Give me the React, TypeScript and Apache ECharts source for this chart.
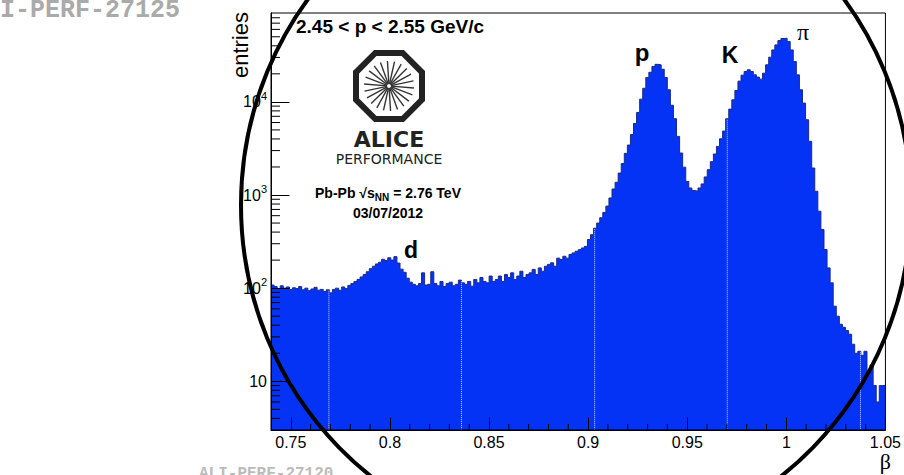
import React, { useEffect, useRef } from 'react';
import * as echarts from 'echarts';

// ---- data ----
const X_MIN = 0.74;
const X_MAX = 1.05;
const BIN_WIDTH = 0.00155;
const Y_MIN = 3;
const Y_MAX = 90000;

// bins 0..99 (beta 0.740 - 0.895): flat background + deuteron bump
const countsLowBeta = [
  108, 104, 98, 106, 100, 103, 97, 101, 99, 104, 96, 100, 94, 98, 102, 95, 97, 92, 96,
  89,
  97, 100, 95, 103, 99, 107,
  112, 118, 124, 132, 140, 150, 162, 172, 182,
  190, 204, 198, 212, 200, 218, 186,
  160, 148, 128, 116, 110,
  106, 112, 146, 108, 110, 150, 112, 106, 118, 104, 112, 116, 106, 110, 122,
  114, 110, 118, 105, 124, 114, 130, 118, 114, 135, 118,
  124, 135, 118, 140, 130, 146, 124, 135, 152, 130, 140,
  146, 159, 140, 165, 152, 172, 180,
  187, 172, 210, 203, 220,
  210, 230, 239, 249,
];
// bins 100..138: proton peak
const countsProton = [
  259, 270, 281, 333, 375, 440,
  500, 570, 650, 760, 930, 1160, 1370, 1720, 2180, 2800, 3440, 4460, 5870, 7700,
  10700, 14000, 18300, 20800, 24000, 25300, 25000, 22400, 18300, 13500, 9200, 6600,
  4260, 2825, 1990, 1400, 1190, 1115, 1100,
];
// bins 139..199: kaon + pion peaks and tail
const countsKaonPion = [
  1190, 1315, 1564, 1871, 2280, 2755, 3325, 4020, 4860, 6590, 8360, 10520, 13250,
  16700, 19360, 21200, 22100, 21200, 19500, 18450, 17550, 20330, 25000, 30200, 36100,
  40900, 45500, 47900, 48300, 44400, 36100, 27100, 19500, 13500, 9700, 6430, 3770,
  1950, 1097, 670, 426, 260, 165, 114, 64, 50, 41, 38, 35, 32, 25, 20, 21, 19, 21,
  12, 15, 9, 6, 9, 9,
];
const counts = [...countsLowBeta, ...countsProton, ...countsKaonPion];

// white fill seams visible in the drawing
const seamPositions = [0.7692, 0.8361, 0.9033, 0.9702, 1.0374];

const FONT = 'Liberation Sans, Arial, Helvetica, sans-serif';
const SERIF = 'Liberation Serif, Times New Roman, serif';

function countAt(x: number) {
  const i = Math.min(counts.length - 1, Math.max(0, Math.floor((x - X_MIN) / BIN_WIDTH)));
  return counts[i];
}

// minor tick positions
const xMinorTicks: number[] = [];
for (let k = 76; k <= 104; k++) {
  if (k % 5 !== 0) xMinorTicks.push(k / 100);
}
const yMinorTicks: number[] = [];
for (let e = 0; e <= 4; e++) {
  for (let m = 2; m <= 9; m++) {
    const v = m * Math.pow(10, e);
    if (v > Y_MIN && v < Y_MAX) yMinorTicks.push(v);
  }
}

export default function App() {
  const ref = useRef<HTMLDivElement>(null);

  useEffect(() => {
    const chart = echarts.init(ref.current!, null, { renderer: 'svg' });

    const histData: number[][] = counts.map((c, i) => [X_MIN + i * BIN_WIDTH, c]);
    histData.push([X_MAX, counts[counts.length - 1]]);

    const logoCx = 389;
    const logoCy = 86;
    const octR = 33 / Math.cos(Math.PI / 8);
    const octPoints = Array.from({ length: 8 }, (_, k) => {
      const a = Math.PI / 8 + (k * Math.PI) / 4;
      return [logoCx + octR * Math.cos(a), logoCy + octR * Math.sin(a)];
    });
    const rays = Array.from({ length: 22 }, (_, k) => {
      const a = (k * 2 * Math.PI) / 22 + 0.08;
      return {
        type: 'line',
        shape: {
          x1: logoCx + 2 * Math.cos(a),
          y1: logoCy + 2 * Math.sin(a),
          x2: logoCx + 25 * Math.cos(a),
          y2: logoCy + 25 * Math.sin(a),
        },
        style: { stroke: '#333', lineWidth: 1.4 },
        z: 20,
      };
    });

    const option: any = {
      animation: false,
      backgroundColor: '#fff',
      textStyle: { fontFamily: FONT },
      grid: {
        left: 271,
        top: 13,
        width: 615,
        height: 417,
        show: true,
        borderColor: '#000',
        borderWidth: 1,
        z: 5,
      },
      xAxis: {
        type: 'value',
        min: X_MIN,
        max: X_MAX,
        splitNumber: 6,
        z: 5,
        axisLine: { show: true, lineStyle: { color: '#000', width: 1 } },
        axisTick: { show: true, inside: true, length: 12.5, lineStyle: { color: '#000', width: 1 } },
        minorTick: { show: false },
        splitLine: { show: false },
        axisLabel: {
          color: '#000',
          fontSize: 16,
          fontFamily: FONT,
          margin: 4,
          showMinLabel: false,
        },
      },
      yAxis: {
        type: 'log',
        logBase: 10,
        min: Y_MIN,
        max: Y_MAX,
        z: 5,
        axisLine: { show: true, lineStyle: { color: '#000', width: 1 } },
        axisTick: { show: true, inside: true, length: 18.5, lineStyle: { color: '#000', width: 1 } },
        splitLine: { show: false },
        axisLabel: {
          color: '#000',
          fontSize: 16,
          fontFamily: FONT,
          margin: 4,
          showMinLabel: false,
          showMaxLabel: false,
          formatter: (v: number) => {
            const e = Math.round(Math.log10(v));
            return e === 1 ? '10' : `10{sup|${e}}`;
          },
          rich: {
            sup: { fontSize: 11, fontFamily: FONT, color: '#000', padding: [0, 0, 12, 0] },
          },
        },
      },
      series: [
        {
          name: 'beta',
          type: 'line',
          data: histData,
          step: 'end',
          showSymbol: false,
          symbol: 'none',
          z: 2,
          lineStyle: { color: '#1c2a80', width: 1 },
          areaStyle: { color: '#0433f5', opacity: 1, origin: 'start' },
          silent: true,
        },
        {
          name: 'seams',
          type: 'custom',
          z: 3,
          silent: true,
          data: seamPositions.map((x) => [x, countAt(x)]),
          renderItem: (params: any, api: any) => {
            const top = api.coord([api.value(0), api.value(1)]);
            const bot = api.coord([api.value(0), Y_MIN]);
            return {
              type: 'line',
              shape: { x1: top[0], y1: top[1] + 1, x2: bot[0], y2: bot[1] },
              style: { stroke: '#ffffff', lineWidth: 1, lineDash: [1, 1], opacity: 0.8 },
            };
          },
        },
        {
          name: 'xMinor',
          type: 'custom',
          z: 6,
          silent: true,
          data: xMinorTicks.map((v) => [v, Y_MIN]),
          renderItem: (params: any, api: any) => {
            const p = api.coord([api.value(0), Y_MIN]);
            return {
              type: 'line',
              shape: { x1: p[0], y1: p[1], x2: p[0], y2: p[1] - 6 },
              style: { stroke: '#000', lineWidth: 1 },
            };
          },
        },
        {
          name: 'yMinor',
          type: 'custom',
          z: 6,
          silent: true,
          data: yMinorTicks.map((v) => [X_MIN, v]),
          renderItem: (params: any, api: any) => {
            const p = api.coord([X_MIN, api.value(1)]);
            return {
              type: 'line',
              shape: { x1: p[0], y1: p[1], x2: p[0] + 9, y2: p[1] },
              style: { stroke: '#000', lineWidth: 1 },
            };
          },
        },
      ],
      graphic: [
        {
          type: 'text', x: -30, y: 10, z: 1,
          style: { text: 'ALI-PERF-27125', fontFamily: 'Liberation Mono, Courier New, monospace', fontWeight: 'bold', fontSize: 25, fill: '#aaaaaa', align: 'left', verticalAlign: 'middle' },
        },
        {
          type: 'text', x: 199, y: 466, z: 1,
          style: { text: 'ALI-PERF-27120', fontFamily: 'Liberation Mono, Courier New, monospace', fontWeight: 'bold', fontSize: 16, fill: '#bbbbbb', align: 'left', verticalAlign: 'top' },
        },
        {
          type: 'text', x: 240, y: 12, rotation: Math.PI / 2, z: 20,
          style: { text: 'entries', fontFamily: FONT, fontSize: 22, fill: '#000', align: 'right', verticalAlign: 'middle' },
        },
        {
          type: 'text', x: 891, y: 461, z: 20,
          style: { text: 'β', fontFamily: SERIF, fontSize: 22, fill: '#000', align: 'right', verticalAlign: 'middle' },
        },
        {
          type: 'text', x: 296, y: 26, z: 20,
          style: { text: '2.45 < p < 2.55 GeV/c', fontFamily: FONT, fontWeight: 'bold', fontSize: 19, fill: '#000', align: 'left', verticalAlign: 'middle' },
        },
        {
          type: 'text', x: 642, y: 52, z: 20,
          style: { text: 'p', fontFamily: FONT, fontWeight: 'bold', fontSize: 24, fill: '#000', align: 'center', verticalAlign: 'middle' },
        },
        {
          type: 'text', x: 730, y: 55, z: 20,
          style: { text: 'K', fontFamily: FONT, fontWeight: 'bold', fontSize: 23, fill: '#000', align: 'center', verticalAlign: 'middle' },
        },
        {
          type: 'text', x: 803, y: 32, z: 20,
          style: { text: 'π', fontFamily: SERIF, fontSize: 24, fill: '#000', align: 'center', verticalAlign: 'middle' },
        },
        {
          type: 'text', x: 411, y: 250, z: 20,
          style: { text: 'd', fontFamily: FONT, fontWeight: 'bold', fontSize: 23, fill: '#000', align: 'center', verticalAlign: 'middle' },
        },
        {
          type: 'polygon', z: 20,
          shape: { points: octPoints },
          style: { fill: 'none', stroke: '#222', lineWidth: 6, lineJoin: 'miter' },
        },
        ...rays,
        {
          type: 'text', x: 389, y: 139, z: 20,
          style: { text: 'ALICE', fontFamily: 'DejaVu Sans, sans-serif', fontWeight: 'bold', fontSize: 22, fill: '#222', align: 'center', verticalAlign: 'middle' },
        },
        {
          type: 'text', x: 389, y: 159, z: 20,
          style: { text: 'PERFORMANCE', fontFamily: 'DejaVu Sans, sans-serif', fontSize: 14, fill: '#222', align: 'center', verticalAlign: 'middle' },
        },
        {
          type: 'text', x: 388, y: 193, z: 20,
          style: {
            text: 'Pb-Pb √s{sub|NN} = 2.76 TeV',
            fontFamily: FONT, fontWeight: 'bold', fontSize: 14, fill: '#000', align: 'center', verticalAlign: 'middle',
            rich: { sub: { fontFamily: FONT, fontWeight: 'bold', fontSize: 10, fill: '#000', padding: [8, 0, 0, 0] } },
          },
        },
        {
          type: 'text', x: 388, y: 213, z: 20,
          style: { text: '03/07/2012', fontFamily: FONT, fontWeight: 'bold', fontSize: 14, fill: '#000', align: 'center', verticalAlign: 'middle' },
        },
        {
          type: 'ellipse', z: 100,
          shape: { cx: 576, cy: 205, rx: 335, ry: 343 },
          style: { fill: 'none', stroke: '#000', lineWidth: 4 },
        },
      ],
    };

    chart.setOption(option);
    return () => chart.dispose();
  }, []);

  return (
    <div
      ref={ref}
      style={{ position: 'fixed', left: 0, top: 0, width: 904, height: 475, background: '#fff' }}
    />
  );
}
